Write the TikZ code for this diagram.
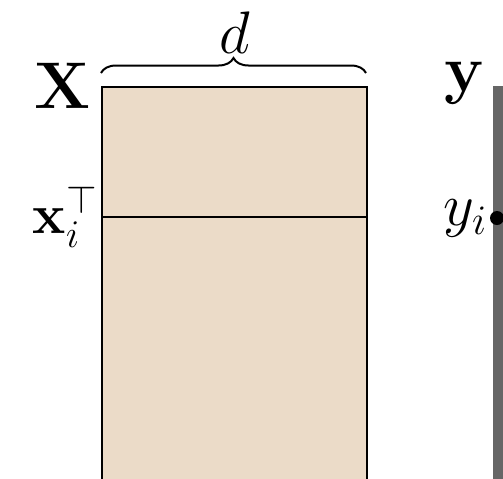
\documentclass[tikz,border=0pt]{standalone}
\usepackage{fix-cm}
\usepackage{amsmath,amssymb}
\usepackage{xcolor}
\usetikzlibrary{positioning,decorations.pathreplacing}
\definecolor{matfill}{RGB}{235,219,200}
\definecolor{vecgray}{RGB}{102,102,102}

\begin{document}
\begin{tikzpicture}[x=0.5pt, y=-0.5pt,
  lbl/.style={font=\fontsize{30}{36}\selectfont, inner sep=0pt},
  big/.style={lbl, font=\fontsize{33}{40}\selectfont},
  mat/.style={draw, fill=matfill, line width=1.1pt, inner sep=0pt, minimum width=132.5pt, minimum height=200pt},
  vec/.style={fill=vecgray, inner sep=0pt, minimum width=6pt, minimum height=200pt},
  brc/.style={decorate, decoration={brace, amplitude=7.5pt}, line width=1pt}]
\clip (0,0) rectangle (503,478);
\node[mat, anchor=north west] (X) at (101,86) {};
\coordinate (rowL) at (101,217);
\coordinate (rowR) at (366,217);
\draw[line width=1.1pt] (rowL) -- (rowR);
\coordinate (brL) at (101,73);
\coordinate (brR) at (366,73);
\draw[brc] (brL) -- (brR);
\node[lbl] (dlab) at (235,33) {$d$};
\node[big, left=5pt of X.north west] (Xlab) {$\mathbf{X}$};
\node[lbl, font=\fontsize{28}{34}\selectfont, left=1.5pt of rowL] (xilab) {$\mathbf{x}_i^\top$};
\node[vec, anchor=north west] (y) at (493,86) {};
\node[circle, fill=black, inner sep=0pt, minimum size=7pt] (yi) at (497,218) {};
\node[big] (ylab) at (465,83) {$\mathbf{y}$};
\node[lbl, left=1pt of yi] (yilab) {$y_i$};
\end{tikzpicture}
\end{document}
